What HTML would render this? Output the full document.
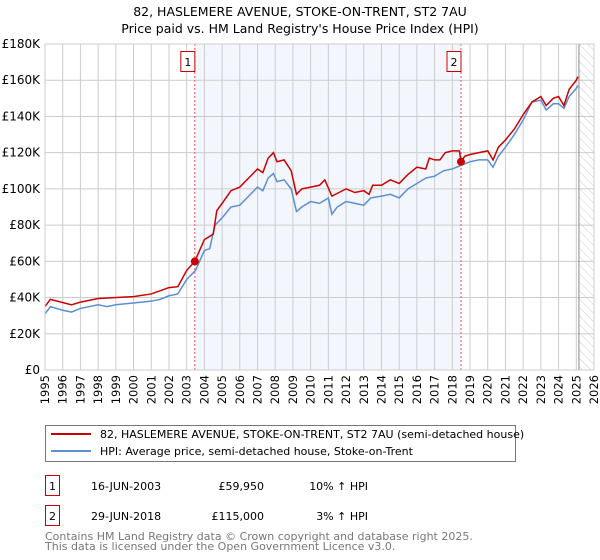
<!DOCTYPE html>
<html><head><meta charset="utf-8"><style>
body{margin:0;background:#fff;font-family:"DejaVu Sans","Liberation Sans",sans-serif;}
svg{display:block}
</style></head><body>
<svg id="c" width="600" height="560" xmlns="http://www.w3.org/2000/svg" font-family="DejaVu Sans, Liberation Sans, sans-serif">
<defs><pattern id="hatch" width="6" height="6" patternUnits="userSpaceOnUse" patternTransform="rotate(-45)"><line x1="0" y1="0" x2="0" y2="6" stroke="#ccc" stroke-width="1"/></pattern></defs>
<text x="300" y="16" text-anchor="middle" font-size="12.5">82, HASLEMERE AVENUE, STOKE-ON-TRENT, ST2 7AU</text>
<text x="300" y="33" text-anchor="middle" font-size="12.5">Price paid vs. HM Land Registry's House Price Index (HPI)</text>
<g id="plot"></g>
<g>
<rect x="45.5" y="425.5" width="470" height="36" fill="#fff" stroke="#777"/>
<line x1="51" y1="434" x2="91" y2="434" stroke="#cc0000" stroke-width="2"/>
<text x="100" y="438" font-size="11">82, HASLEMERE AVENUE, STOKE-ON-TRENT, ST2 7AU (semi-detached house)</text>
<line x1="51" y1="451" x2="91" y2="451" stroke="#5b8fd4" stroke-width="2"/>
<text x="100" y="455" font-size="11">HPI: Average price, semi-detached house, Stoke-on-Trent</text>
</g>
<g font-size="11">
<rect x="45.5" y="475.5" width="14" height="20" fill="#fff" stroke="#cc0000"/>
<text x="52.5" y="490" text-anchor="middle">1</text>
<text x="91" y="490">16-JUN-2003</text>
<text x="264" y="490" text-anchor="end">£59,950</text>
<text x="368" y="490" text-anchor="end">10% ↑ HPI</text>
<rect x="45.5" y="505.5" width="14" height="20" fill="#fff" stroke="#cc0000"/>
<text x="52.5" y="520" text-anchor="middle">2</text>
<text x="91" y="520">29-JUN-2018</text>
<text x="264" y="520" text-anchor="end">£115,000</text>
<text x="368" y="520" text-anchor="end">3% ↑ HPI</text>
</g>
<text x="45" y="540" font-size="11" fill="#777">Contains HM Land Registry data © Crown copyright and database right 2025.</text>
<text x="45" y="550" font-size="11" fill="#777">This data is licensed under the Open Government Licence v3.0.</text>
</svg>
<script>
const yTicks=[0,20,40,60,80,100,120,140,160,180];
const yTickLabels=["£0","£20K","£40K","£60K","£80K","£100K","£120K","£140K","£160K","£180K"];
const years=[1995,1996,1997,1998,1999,2000,2001,2002,2003,2004,2005,2006,2007,2008,2009,2010,2011,2012,2013,2014,2015,2016,2017,2018,2019,2020,2021,2022,2023,2024,2025,2026];
const saleDates=[2003.46,2018.49];
const salePrices=[59.95,115];
const saleLabels=["1","2"];
const dataEnd=2025.15;
const hpiT=[1995,1995.3,1996,1996.5,1997,1998,1998.5,1999,2000,2001,2001.5,2002,2002.5,2003,2003.5,2004,2004.3,2004.6,2005,2005.5,2006,2006.5,2007,2007.3,2007.6,2007.9,2008.1,2008.5,2008.9,2009.2,2009.5,2010,2010.5,2011,2011.2,2011.5,2012,2012.5,2013,2013.4,2014,2014.5,2015,2015.5,2016,2016.5,2017,2017.5,2018,2018.5,2019,2019.5,2020,2020.3,2020.6,2021,2021.5,2022,2022.5,2023,2023.3,2023.7,2024,2024.3,2024.6,2025,2025.1];
const hpiV=[31,35,33,32,34,36,35,36,37,38,39,41,42,50,55,66,67,80,84,90,91,96,101,99,106,108.5,104,105,100,87.5,90,93,92,95,86,90,93,92,91,95,96,97,95,100,103,106,107,110,111,113,115,116,116,112,118,123,130,138,148,149,143.5,147,147,144.5,151,155.5,157];
const redT=[1995,1995.3,1996.5,1997,1998,2000,2001,2002,2002.5,2003,2003.46,2004,2004.5,2004.7,2005,2005.5,2006,2006.5,2007,2007.3,2007.6,2007.9,2008.1,2008.5,2008.9,2009.2,2009.5,2010,2010.5,2010.8,2011.2,2012,2012.5,2013,2013.3,2013.5,2014,2014.5,2015,2015.5,2016,2016.5,2016.7,2017,2017.3,2017.6,2018,2018.4,2018.49,2018.7,2019,2019.5,2020,2020.3,2020.6,2021,2021.5,2022,2022.5,2023,2023.3,2023.7,2024,2024.3,2024.6,2025,2025.1];
const redV=[35,39,36,37.5,39.5,40.5,42,45.5,46,55,60,72,75,88,92,99,101,106,111,109,117,120,115,116,110,97,100,101,102,105,96,100,98,99,97,102,102,105,103,108,112,111,117,116,116,120,121,121,115,118,119,120,121,116,123,127,133,141,148,151,146,150,151,146,155,160,162];
const NS="http://www.w3.org/2000/svg";
const X0=45,X1=594,Y0=370,Y1=44;
const xs=t=>X0+(t-1995)/(2026-1995)*(X1-X0);
const ys=v=>Y0-v/180*(Y0-Y1);
const g=document.getElementById('plot');
function mk(tag,at){const e=document.createElementNS(NS,tag);for(const k in at)e.setAttribute(k,at[k]);g.appendChild(e);return e;}
let e;
e=mk('rect',{x:xs(saleDates[0]),y:Y1,width:xs(saleDates[1])-xs(saleDates[0]),height:Y0-Y1,fill:'#eef2fc',opacity:0.7});


e=mk('rect',{x:xs(dataEnd),y:Y1,width:X1-xs(dataEnd),height:Y0-Y1,fill:'url(#hatch)'});


yTicks.forEach((v,i)=>{
 e=mk('line',{x1:X0,x2:X1,y1:ys(v),y2:ys(v),stroke:'#ccc','stroke-width':1});
 
 
 e=mk('text',{x:X0-5,y:ys(v)+4,'text-anchor':'end','font-size':12});
 e.textContent=yTickLabels[i];
 
 
});
years.forEach(yr=>{
 e=mk('line',{x1:xs(yr),x2:xs(yr),y1:Y1,y2:Y0,stroke:'#ccc','stroke-width':1});
 
 
 e=mk('text',{x:0,y:0,'text-anchor':'end','font-size':11.5,transform:`translate(${xs(yr)+4},${Y0+5}) rotate(-90)`});
 e.textContent=yr;
 
 
});
e=mk('line',{x1:xs(dataEnd),x2:xs(dataEnd),y1:Y1,y2:Y0,stroke:'#888','stroke-width':1});


saleDates.forEach((d,i)=>{
 e=mk('line',{x1:xs(d),x2:xs(d),y1:Y1,y2:Y0,stroke:'#ee5555','stroke-width':1,'stroke-dasharray':'2,2'});
 
 
 e=mk('rect',{x:xs(d)-14,y:51.5,width:14,height:20,fill:'#fff',stroke:'#cc0000'});
 
 
 e=mk('text',{x:xs(d)-7,y:66,'text-anchor':'middle','font-size':11});
 e.textContent=saleLabels[i];
 
 
});
e=mk('polyline',{points:hpiT.map((t,i)=>xs(t)+','+ys(hpiV[i])).join(' '),fill:'none',stroke:'#5b8fd4','stroke-width':1.5});


e=mk('polyline',{points:redT.map((t,i)=>xs(t)+','+ys(redV[i])).join(' '),fill:'none',stroke:'#cc0000','stroke-width':1.5});


saleDates.forEach((d,i)=>{
 e=mk('circle',{cx:xs(d),cy:ys(salePrices[i]),r:4,fill:'#cc0000'});
 
 
});
e=mk('rect',{x:X0,y:Y1,width:X1-X0,height:Y0-Y1,fill:'none',stroke:'#ccc'});


</script>
</body></html>
